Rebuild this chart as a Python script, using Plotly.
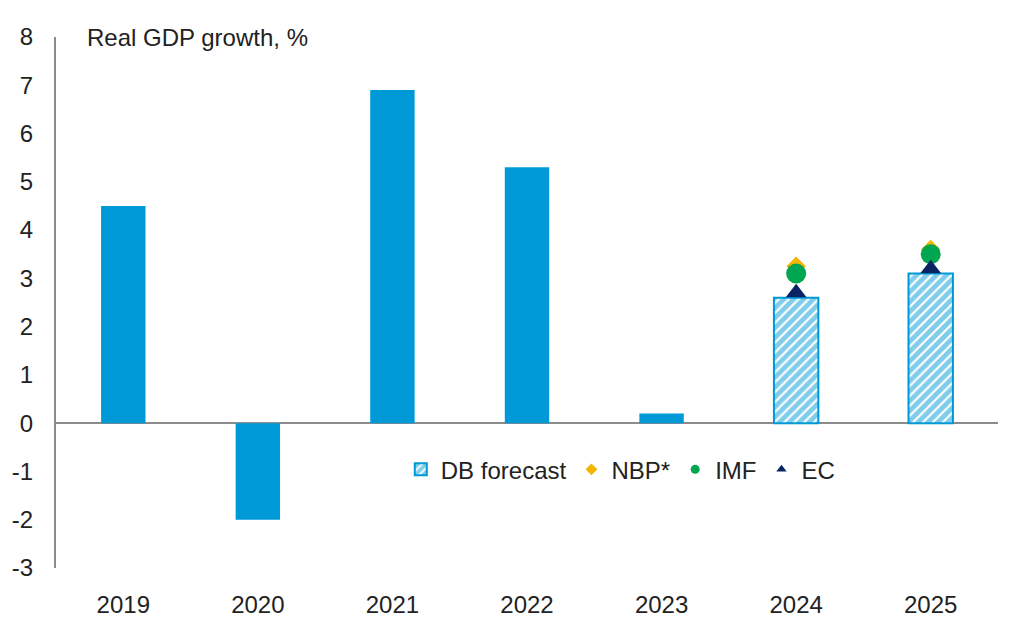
import plotly.graph_objects as go

years = ["2019", "2020", "2021", "2022", "2023", "2024", "2025"]
actual_years = ["2019", "2020", "2021", "2022", "2023"]
actual_values = [4.5, -2.0, 6.9, 5.3, 0.2]
forecast_years = ["2024", "2025"]
db_forecast = [2.6, 3.1]
nbp = [3.25, 3.6]
imf = [3.1, 3.5]
ec = [2.7, 3.2]
y_ticks = [-3, -2, -1, 0, 1, 2, 3, 4, 5, 6, 7, 8]
y_ticktext = ["-3", "-2", "-1", "0", "1", "2", "3", "4", "5", "6", "7", "8"]

BLUE = "#0099D8"
GOLD = "#F5B400"
GREEN = "#00A650"
NAVY = "#0A2463"
FONT = "Liberation Sans, Arial, sans-serif"
TXT = "#222222"

fig = go.Figure()
fig.add_trace(go.Bar(x=actual_years, y=actual_values, marker=dict(color=BLUE, line=dict(width=0)),
                     width=0.33, showlegend=False, name="Actual"))
fig.add_trace(go.Bar(x=forecast_years, y=db_forecast, name="DB forecast", width=0.33,
                     marker=dict(color="white", line=dict(color=BLUE, width=2),
                                 pattern=dict(shape="/", fgcolor=BLUE, bgcolor="white", size=7, solidity=0.68))))
fig.add_trace(go.Scatter(x=forecast_years, y=nbp, mode="markers", name="NBP*", showlegend=False,
                         marker=dict(symbol="diamond", color=GOLD, size=15)))
fig.add_trace(go.Scatter(x=forecast_years, y=imf, mode="markers", name="IMF", showlegend=False,
                         marker=dict(symbol="circle", color=GREEN, size=20)))
fig.add_trace(go.Scatter(x=forecast_years, y=ec, mode="markers", name="EC", showlegend=False,
                         marker=dict(symbol="triangle-up", color=NAVY, size=18)))
# legend-only entries with small symbols
for nm, sym, col, sz in [("NBP*", "diamond", GOLD, 9), ("IMF", "circle", GREEN, 9), ("EC", "triangle-up", NAVY, 9)]:
    fig.add_trace(go.Scatter(x=[None], y=[None], mode="markers", name=nm,
                             marker=dict(symbol=sym, color=col, size=sz)))

fig.update_layout(
    width=1002, height=618,
    margin=dict(l=48, r=12, t=29, b=58),
    paper_bgcolor="white", plot_bgcolor="white",
    barmode="overlay",
    font=dict(family=FONT, size=24, color=TXT),
    showlegend=True,
    legend=dict(orientation="h", x=0.366, y=0.185, xanchor="left", yanchor="middle",
                font=dict(size=24, color=TXT), bgcolor="rgba(0,0,0,0)", itemwidth=30,
                tracegroupgap=0, traceorder="normal"),
    xaxis=dict(categoryorder="array", categoryarray=years, showgrid=False, showline=False,
               zeroline=False, ticks="", ticklabelstandoff=20, range=[-0.5, 6.5], automargin=False),
    yaxis=dict(range=[-3, 8], tickvals=y_ticks, ticktext=y_ticktext, showgrid=False, showline=True,
               linecolor="#8c8c8c", linewidth=2, zeroline=True, zerolinecolor="#8c8c8c", zerolinewidth=2,
               ticks="", ticklabelstandoff=16, automargin=False),
    annotations=[dict(text="Real GDP growth, %", xref="paper", yref="paper", x=0.031, y=1.0,
                      xanchor="left", yanchor="middle", showarrow=False,
                      font=dict(family=FONT, size=24, color=TXT))],
)

fig.write_html("out.html")
